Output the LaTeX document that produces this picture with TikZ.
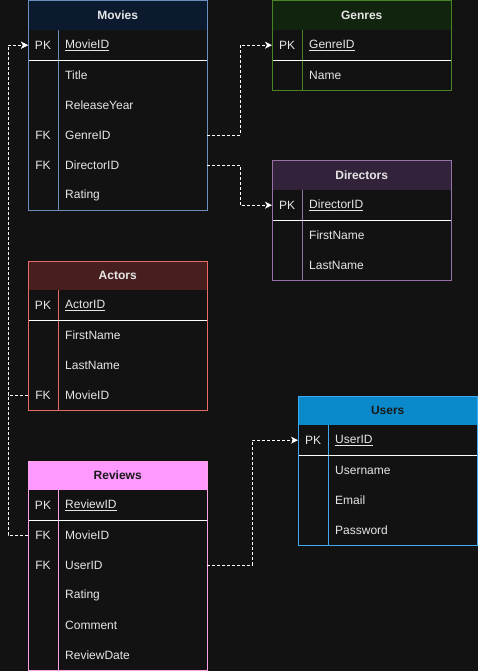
\documentclass[tikz,border=0pt]{standalone}
\usepackage{fontspec}
\setmainfont{Liberation Sans}
\usetikzlibrary{arrows.meta}
\usetikzlibrary{calc}

\definecolor{bgc}{HTML}{121212}
\definecolor{fgc}{HTML}{E6E6E6}
\definecolor{mvhead}{HTML}{0C1A30}
\definecolor{mvline}{HTML}{6C8EBF}
\definecolor{gnhead}{HTML}{11240D}
\definecolor{gnline}{HTML}{4A8226}
\definecolor{drhead}{HTML}{32223A}
\definecolor{drline}{HTML}{9673A6}
\definecolor{achead}{HTML}{481F1F}
\definecolor{acline}{HTML}{EA6B66}
\definecolor{rvhead}{HTML}{FF99FF}
\definecolor{rvline}{HTML}{FFA3E6}
\definecolor{ushead}{HTML}{0A8ACA}
\definecolor{usline}{HTML}{3FAAF0}

\tikzset{
  tblhead/.style={minimum width=179pt, minimum height=29pt, inner sep=0pt,
    anchor=north west, font=\fontsize{12}{14}\selectfont\bfseries},
  tblrow/.style={minimum width=179pt, minimum height=30pt, inner sep=0pt,
    anchor=north west},
  keytxt/.style={text=fgc, inner sep=0pt},
  fieldtxt/.style={text=fgc, inner sep=0pt, anchor=west},
  fk/.style={draw=white, line width=0.9pt, dash pattern=on 3pt off 2pt,
    -{Stealth[length=7pt,width=7pt,inset=2pt]}},
}

% #1 id, #2 x, #3 y, #4 title, #5 header look, #6 border, #7 pk field, #8 other rows
\newcommand{\erdtable}[8]{%
  \node[tblhead, #5] (#1) at (#2,#3) {#4};
  \node[tblrow] (#1-0) at (#2,#3+29) {};
  \node[keytxt] at ($(#1-0.west)+(15,0)$) {PK};
  \node[fieldtxt] at ($(#1-0.west)+(37,0)$) {\underline{#7}};
  \foreach \k/\f [count=\i] in {#8} {
    \node[tblrow] (#1-\i) at (#2,#3+29+30*\i) {};
    \node[keytxt] at ($(#1-\i.west)+(15,0)$) {\k};
    \node[fieldtxt] at ($(#1-\i.west)+(37,0)$) {\f};
    \xdef\lastrow{\i}
  }
  \draw[#6, line width=1pt] ($(#1.south west)+(30,0)$) -- ($(#1-\lastrow.south west)+(30,0)$);
  \draw[white, line width=1pt] (#1-0.south west) -- (#1-0.south east);
  \draw[#6, line width=1pt] (#1.north west) rectangle (#1-\lastrow.south east);
}

\begin{document}
\begin{tikzpicture}[x=1pt, y=-1pt, font=\fontsize{12}{14}\selectfont]
  \useasboundingbox[fill=bgc] (0,0) rectangle (478,671);

  \erdtable{mv}{28}{1}{Movies}{fill=mvhead, text=fgc}{mvline}{MovieID}
    {/Title, /ReleaseYear, FK/GenreID, FK/DirectorID, /Rating}
  \erdtable{gn}{272}{1}{Genres}{fill=gnhead, text=fgc}{gnline}{GenreID}
    {/Name}
  \erdtable{dr}{272}{161}{Directors}{fill=drhead, text=fgc}{drline}{DirectorID}
    {/FirstName, /LastName}
  \erdtable{ac}{28}{261}{Actors}{fill=achead, text=fgc}{acline}{ActorID}
    {/FirstName, /LastName, FK/MovieID}
  \erdtable{us}{298}{396}{Users}{fill=ushead, text=black!90}{usline}{UserID}
    {/Username, /Email, /Password}
  \erdtable{rv}{28}{461}{Reviews}{fill=rvhead, text=black!90}{rvline}{ReviewID}
    {FK/MovieID, FK/UserID, /Rating, /Comment, /ReviewDate}

  % foreign keys
  \draw[fk] (mv-3.east) -- ++(33,0) |- (gn-0.west);
  \draw[fk] (mv-4.east) -- ++(33,0) |- (dr-0.west);
  \draw[fk] (ac-3.west) -- ++(-20,0) |- (mv-0.west);
  \draw[fk] (rv-1.west) -- ++(-20,0) |- (mv-0.west);
  \draw[fk] (rv-2.east) -- ++(45,0) |- (us-0.west);
\end{tikzpicture}
\end{document}
